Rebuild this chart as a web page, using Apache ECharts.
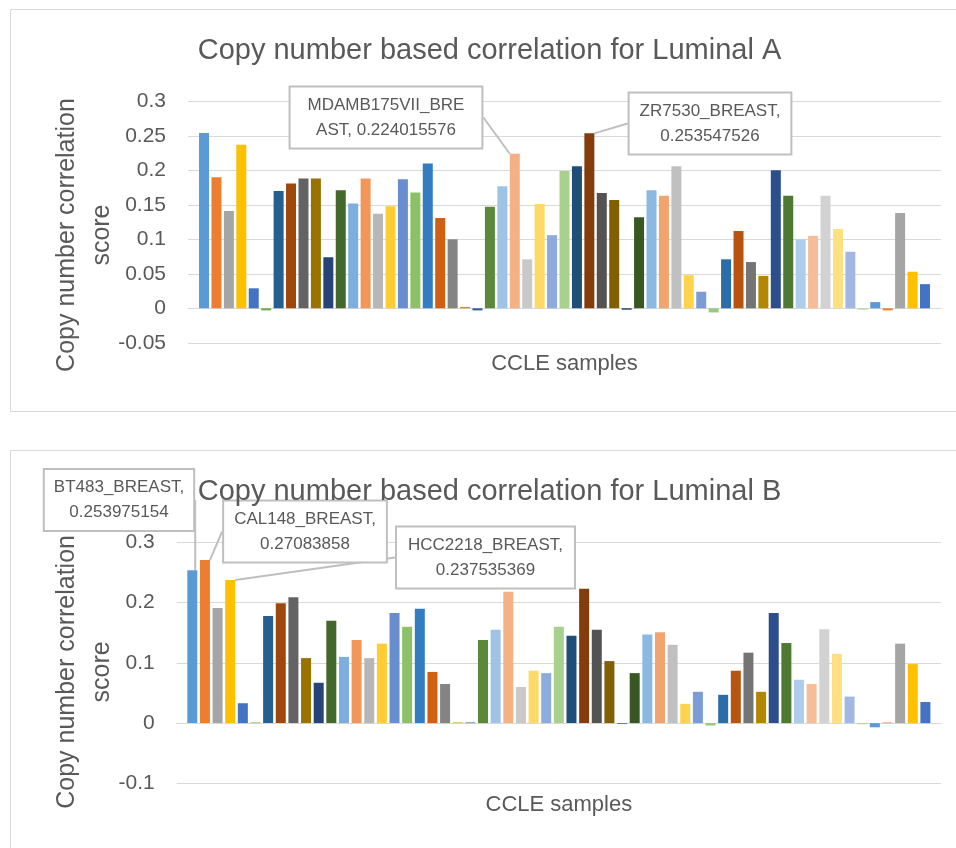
<!DOCTYPE html>
<html>
<head>
<meta charset="utf-8">
<script src="https://cdn.jsdelivr.net/npm/echarts@6/dist/echarts.min.js"></script>
<style>html,body{margin:0;padding:0;background:#fff}#c{width:956px;height:848px}</style>
</head>
<body>
<div id="c"></div>
<script>
// ---------- DATA ----------
const titles = ['Copy number based correlation for Luminal A', 'Copy number based correlation for Luminal B'];
const yAxisTitle = 'Copy number correlation\nscore';
const xAxisTitle = 'CCLE samples';

// Luminal A scores (59 CCLE samples, same order in both charts)
const lumA = [0.254, 0.190, 0.141, 0.237, 0.029, -0.003, 0.170, 0.181, 0.188, 0.188,
  0.074, 0.171, 0.152, 0.188, 0.137, 0.148, 0.187, 0.168, 0.210, 0.131,
  0.100, 0.002, -0.003, 0.147, 0.177, 0.224015576, 0.071, 0.151, 0.106, 0.199,
  0.206, 0.253547526, 0.167, 0.157, -0.002, 0.132, 0.171, 0.163, 0.206, 0.048,
  0.024, -0.006, 0.071, 0.112, 0.067, 0.047, 0.200, 0.163, 0.100, 0.105,
  0.163, 0.115, 0.082, -0.002, 0.009, -0.003, 0.138, 0.053, 0.035];

// Luminal B scores
const lumB = [0.253975154, 0.27083858, 0.191, 0.237535369, 0.033, 0.001, 0.178, 0.199, 0.209, 0.108,
  0.067, 0.170, 0.110, 0.138, 0.108, 0.132, 0.183, 0.160, 0.190, 0.085,
  0.065, 0.001, 0.001, 0.138, 0.155, 0.218, 0.060, 0.087, 0.083, 0.160,
  0.145, 0.223, 0.155, 0.103, -0.001, 0.083, 0.147, 0.151, 0.130, 0.032,
  0.052, -0.004, 0.047, 0.087, 0.117, 0.052, 0.183, 0.133, 0.072, 0.065,
  0.156, 0.115, 0.044, -0.002, -0.007, 0.001, 0.132, 0.098, 0.035];

// y tick values
const ticksA = [-0.05, 0, 0.05, 0.1, 0.15, 0.2, 0.25, 0.3];
const ticksB = [-0.1, 0, 0.1, 0.2, 0.3];

// labelled samples (callouts)
const calloutIdxA = [25, 31];
const calloutNamesA = ['MDAMB175VII_BREAST', 'ZR7530_BREAST'];
const calloutIdxB = [0, 1, 3];
const calloutNamesB = ['BT483_BREAST', 'CAL148_BREAST', 'HCC2218_BREAST'];

// ---------- STYLE / LAYOUT ----------
const FONT = 'Liberation Sans';
const TXT = '#595959';
const GRIDC = '#d9d9d9';
const calloutPosA = [[386, 117.5], [710, 123.5]];
const calloutWrapA = [15, null];
const calloutPadA = [[5, 17], [5, 10]];
const calloutPosB = [[119, 500], [305, 531.5], [485.5, 557.5]];
const calloutWrapB = [null, null, null];
const calloutPadB = [[5, 9], [5, 10], [5, 11]];

const accents = ['#5B9BD5', '#ED7D31', '#A5A5A5', '#FFC000', '#4472C4', '#70AD47'];
const mods = [[1, 0], [0.6, 0], [0.8, 0.2], [0.8, 0], [0.6, 0.4], [0.5, 0], [0.7, 0.3], [0.7, 0], [0.5, 0.5]];

function shade(hex, lm, lo) {
  let r = parseInt(hex.slice(1, 3), 16) / 255, g = parseInt(hex.slice(3, 5), 16) / 255, b = parseInt(hex.slice(5, 7), 16) / 255;
  const mx = Math.max(r, g, b), mn = Math.min(r, g, b);
  let h = 0, s = 0, l = (mx + mn) / 2;
  if (mx !== mn) {
    const d = mx - mn;
    s = l > 0.5 ? d / (2 - mx - mn) : d / (mx + mn);
    if (mx === r) h = ((g - b) / d + (g < b ? 6 : 0));
    else if (mx === g) h = (b - r) / d + 2;
    else h = (r - g) / d + 4;
    h /= 6;
  }
  l = Math.min(1, l * lm + lo);
  function hue2rgb(p, q, t) {
    if (t < 0) t += 1; if (t > 1) t -= 1;
    if (t < 1 / 6) return p + (q - p) * 6 * t;
    if (t < 1 / 2) return q;
    if (t < 2 / 3) return p + (q - p) * (2 / 3 - t) * 6;
    return p;
  }
  let R, G, B;
  if (s === 0) { R = G = B = l; }
  else {
    const q = l < 0.5 ? l * (1 + s) : l + s - l * s, p = 2 * l - q;
    R = hue2rgb(p, q, h + 1 / 3); G = hue2rgb(p, q, h); B = hue2rgb(p, q, h - 1 / 3);
  }
  const t = v => Math.round(v * 255).toString(16).padStart(2, '0');
  return '#' + t(R) + t(G) + t(B);
}
function colour(i) {
  const m = mods[Math.floor(i / 6) % 9];
  return shade(accents[i % 6], m[0], m[1]);
}

function buildSeries(values, gi, gap, idx, names, pos, wrap, pad) {
  return values.map((v, i) => {
    const s = {
      type: 'bar', xAxisIndex: gi, yAxisIndex: gi, data: [v],
      barWidth: 10, barGap: gap, itemStyle: { color: colour(i) },
      emphasis: { disabled: true }, animation: false
    };
    const k = idx.indexOf(i);
    if (k >= 0) {
      const nm = names[k];
      const w = wrap[k];
      s.label = {
        show: true, position: 'top',
        formatter: p => {
          const txt = nm + ', ' + p.value;
          return w ? txt.slice(0, w) + '\n' + txt.slice(w) : nm + ',\n' + p.value;
        },
        fontFamily: FONT, fontSize: 17, color: TXT, lineHeight: 25, align: 'center',
        backgroundColor: '#fff', borderColor: '#bfbfbf', borderWidth: 2, padding: pad[k]
      };
      s.labelLine = { show: true, lineStyle: { color: '#bfbfbf', width: 2 } };
      s.labelLayout = { x: pos[k][0], y: pos[k][1], align: 'center', verticalAlign: 'middle' };
      s.z = 5;
    }
    return s;
  });
}

function yAxisCfg(gi, ticks, nameGap, shiftPad) {
  return {
    type: 'value', gridIndex: gi,
    min: ticks[0], max: ticks[ticks.length - 1], interval: ticks[1] - ticks[0],
    axisLine: { show: false }, axisTick: { show: false },
    axisLabel: { fontFamily: FONT, fontSize: 21, color: TXT, margin: 22 },
    splitLine: { lineStyle: { color: GRIDC, width: 1 } },
    name: yAxisTitle, nameLocation: 'middle', nameRotate: 90, nameGap: nameGap,
    nameMoveOverlap: false,
    nameTextStyle: { fontFamily: FONT, fontSize: 25, color: TXT, lineHeight: 35, padding: [0, shiftPad, 0, 0] }
  };
}
function xAxisCfg(gi, nameGap) {
  return {
    type: 'category', gridIndex: gi, data: [''],
    axisTick: { show: false }, axisLabel: { show: false },
    axisLine: { lineStyle: { color: GRIDC, width: 1 } },
    name: xAxisTitle, nameLocation: 'middle', nameGap: nameGap,
    nameTextStyle: { fontFamily: FONT, fontSize: 22, color: TXT, lineHeight: 26 }
  };
}

const chart = echarts.init(document.getElementById('c'), null, { renderer: 'canvas' });
chart.setOption({
  backgroundColor: '#fff',
  animation: false,
  textStyle: { fontFamily: FONT },
  graphic: [
    { type: 'rect', shape: { x: 10.5, y: 9.5, width: 960, height: 402 }, style: { fill: 'none', stroke: GRIDC, lineWidth: 1 }, silent: true },
    { type: 'rect', shape: { x: 10.5, y: 450.5, width: 960, height: 420 }, style: { fill: 'none', stroke: GRIDC, lineWidth: 1 }, silent: true }
  ],
  title: [
    { text: titles[0], left: 489.5, textAlign: 'center', top: 33, padding: 0,
      textStyle: { fontFamily: FONT, fontSize: 29, fontWeight: 'normal', color: TXT, lineHeight: 35 } },
    { text: titles[1], left: 489.5, textAlign: 'center', top: 474, padding: 0,
      textStyle: { fontFamily: FONT, fontSize: 29, fontWeight: 'normal', color: TXT, lineHeight: 35 } }
  ],
  grid: [
    { left: 188, right: 15, top: 101.3, height: 241.5 },
    { left: 176.7, right: 15, top: 542.5, height: 240.8 }
  ],
  xAxis: [xAxisCfg(0, 8.1), xAxisCfg(1, 8.7)],
  yAxis: [yAxisCfg(0, ticksA, 68.5, 26), yAxisCfg(1, ticksB, 57.2, 18)],
  series: [].concat(
    buildSeries(lumA, 0, '24.3%', calloutIdxA, calloutNamesA, calloutPosA, calloutWrapA, calloutPadA),
    buildSeries(lumB, 1, '26.4%', calloutIdxB, calloutNamesB, calloutPosB, calloutWrapB, calloutPadB)
  )
});
</script>
</body>
</html>
